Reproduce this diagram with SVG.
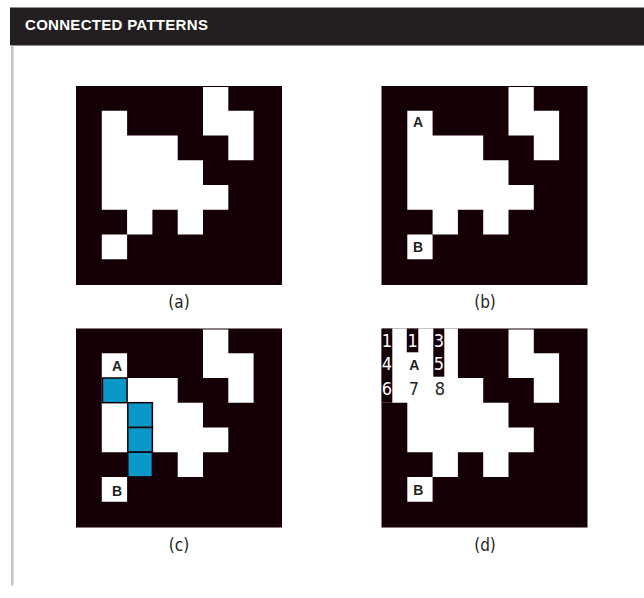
<svg xmlns="http://www.w3.org/2000/svg" xmlns:xlink="http://www.w3.org/1999/xlink" width="644" height="598" viewBox="0 0 644 598">
<style>
.box{fill:#150009}
.wh{fill:#ffffff}
.blue{fill:#0a98c9;stroke:#150009;stroke-width:1.5}
.strip{fill:#150009}
.ab{font-family:"Liberation Sans",Arial,sans-serif;font-weight:bold;font-size:14px;fill:#231f20;text-anchor:middle}
.num{font-family:"DejaVu Sans Condensed","DejaVu Sans","Liberation Sans Narrow","Open Sans",sans-serif;font-stretch:condensed;font-size:18px;text-anchor:middle}
.cap{font-family:"DejaVu Sans Condensed","DejaVu Sans","Liberation Sans Narrow","Open Sans",sans-serif;font-stretch:condensed;font-size:17px;fill:#231f20;text-anchor:middle}
.title{font-family:"Liberation Sans",Arial,sans-serif;font-weight:bold;font-size:15px;fill:#ffffff;letter-spacing:0.3px}
</style>
<defs>
<g id="pat">
<rect class="box" x="0" y="0" width="206" height="199"/>
<path class="wh" d="M127,1 H152.3 V24.75 H177.6 V74.25 H152.3 V49.5 H127 Z"/>
<path class="wh" d="M25.8,24.75 H51.1 V49.5 H101.7 V74.25 H127 V99 H152.3 V123.75 H127 V148.5 H101.7 V123.75 H76.4 V148.5 H51.1 V123.75 H25.8 Z"/>
<rect class="wh" x="25.8" y="148.5" width="25.3" height="24.75"/>
</g>
</defs>

<g id="header">
<rect x="10" y="7.5" width="634" height="38" fill="#231f20"/>
<text class="title" x="25" y="30">CONNECTED PATTERNS</text>
</g>
<rect id="sidebar" x="11" y="45.5" width="2.5" height="540" fill="#c4c4c4"/>

<g id="panel-a">
<use xlink:href="#pat" x="76" y="86"/>
<text class="cap" x="179" y="308">(a)</text>
</g>

<g id="panel-b">
<use xlink:href="#pat" x="381.5" y="86"/>
<text class="ab" x="418" y="127.3">A</text>
<text class="ab" x="418" y="251.7">B</text>
<text class="cap" x="485" y="308">(b)</text>
</g>

<g id="panel-c">
<use xlink:href="#pat" x="76" y="328.5"/>
<rect class="blue" x="102.5" y="378" width="24.6" height="24.7"/>
<rect class="blue" x="127.8" y="402.7" width="24.6" height="24.7"/>
<rect class="blue" x="127.8" y="427.5" width="24.6" height="24.7"/>
<rect class="blue" x="127.8" y="452.2" width="24.6" height="24.7"/>
<text class="ab" x="117" y="370.7">A</text>
<text class="ab" x="117" y="495.7">B</text>
<text class="cap" x="179" y="550.5">(c)</text>
</g>

<g id="panel-d">
<use xlink:href="#pat" x="381.5" y="328.5"/>
<rect class="wh" x="381.5" y="328.5" width="76.4" height="74.25"/>
<rect class="strip" x="381.5" y="328.5" width="10.8" height="74.25"/>
<rect class="strip" x="406.8" y="328.5" width="11.5" height="23.8"/>
<rect class="strip" x="433.3" y="328.5" width="11" height="48.2"/>
<text class="num" x="386.9" y="346.5" fill="#ffffff">1</text>
<text class="num" x="412.6" y="346.5" fill="#ffffff">1</text>
<text class="num" x="438.9" y="346.5" fill="#ffffff">3</text>
<text class="num" x="386.9" y="370.3" fill="#ffffff">4</text>
<text class="ab" x="414.2" y="370">A</text>
<text class="num" x="438.9" y="370.3" fill="#ffffff">5</text>
<text class="num" x="387" y="394.5" fill="#ffffff">6</text>
<text class="num" x="413.8" y="394.5" fill="#231f20">7</text>
<text class="num" x="440" y="394.5" fill="#231f20">8</text>
<text class="ab" x="418.3" y="495.3">B</text>
<text class="cap" x="485" y="550.5">(d)</text>
</g>
</svg>
